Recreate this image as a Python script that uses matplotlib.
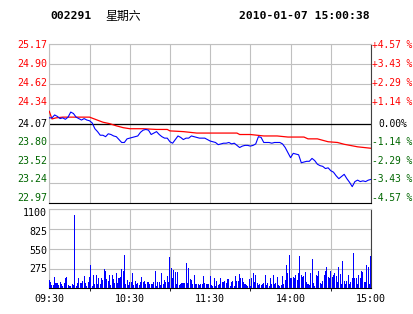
import numpy as np
import matplotlib
matplotlib.use('Agg')
import matplotlib.pyplot as plt
from matplotlib.transforms import ScaledTranslation, blended_transform_factory

# header
stock_code = '002291'
weekday = '星期六'
stamp = '2010-01-07 15:00:38'

# price axis
prev_close = 24.07
price_levels = [25.17, 24.895, 24.62, 24.345, 24.07, 23.795, 23.52, 23.245, 22.97]
price_labels = ['25.17', '24.90', '24.62', '24.34', '24.07', '23.80', '23.52', '23.24', '22.97']
pct_labels = ['+4.57 %', '+3.43 %', '+2.29 %', '+1.14 %', '0.00%', '-1.14 %', '-2.29 %', '-3.43 %', '-4.57 %']
vol_levels = [1100, 825, 550, 275]
time_ticks = [0, 60, 120, 180, 240]
time_labels = ['09:30', '10:30', '11:30', '14:00', '15:00']

# last price, sampled every 2 minutes (minute 0 = 09:30, 120 = 11:30/13:00, 240 = 15:00)
price_am = [24.15, 24.15, 24.19, 24.17, 24.14, 24.15, 24.13, 24.16, 24.23, 24.21,
            24.16, 24.14, 24.12, 24.14, 24.12, 24.11, 24.08, 24.00, 23.96, 23.91,
            23.91, 23.89, 23.93, 23.92, 23.90, 23.89, 23.85, 23.81, 23.81, 23.86,
            23.87, 23.88, 23.89, 23.90, 23.95, 23.98, 23.99, 23.98, 23.92, 23.94,
            23.96, 23.92, 23.89, 23.87, 23.87, 23.82, 23.80, 23.85, 23.90, 23.88,
            23.85, 23.87, 23.87, 23.90, 23.89, 23.88, 23.87, 23.87, 23.87, 23.85,
            23.83]
price_pm = [23.82, 23.81, 23.78, 23.79, 23.80, 23.80, 23.81, 23.79, 23.80, 23.77,
            23.74, 23.76, 23.77, 23.77, 23.76, 23.77, 23.79, 23.89, 23.88, 23.81,
            23.81, 23.81, 23.80, 23.81, 23.81, 23.81, 23.79, 23.74, 23.67, 23.60,
            23.66, 23.65, 23.64, 23.53, 23.54, 23.55, 23.55, 23.59, 23.56, 23.51,
            23.49, 23.48, 23.45, 23.46, 23.42, 23.40, 23.35, 23.31, 23.34, 23.37,
            23.31, 23.26, 23.20, 23.27, 23.29, 23.27, 23.28, 23.27, 23.29, 23.30]

# average price line
avg_minutes = [0, 2, 5, 10, 20, 30, 35, 40, 45, 50, 55, 60, 70, 80, 88, 90, 100, 110, 120,
               130, 140, 142, 150, 155, 160, 170, 178, 190, 193, 200, 208, 215, 220, 230, 240]
avg_prices = [24.24, 24.135, 24.15, 24.16, 24.16, 24.16, 24.125, 24.09, 24.07, 24.04, 24.015,
              24.00, 24.00, 23.99, 23.99, 23.97, 23.96, 23.94, 23.94,
              23.94, 23.94, 23.92, 23.92, 23.91, 23.90, 23.90, 23.885, 23.885, 23.86, 23.86,
              23.82, 23.81, 23.785, 23.75, 23.73]

# volume per minute
vol_am = [110, 82, 46, 46, 156, 73, 73, 46, 92, 64,
          27, 73, 147, 156, 46, 27, 27, 55, 46, 1022,
          27, 73, 137, 73, 73, 100, 165, 73, 27, 82,
          156, 330, 27, 183, 64, 183, 64, 137, 64, 137,
          119, 266, 238, 128, 100, 192, 46, 183, 128, 73,
          211, 73, 147, 156, 266, 238, 458, 55, 110, 46,
          82, 82, 211, 46, 100, 64, 73, 46, 82, 156,
          82, 100, 64, 92, 82, 64, 64, 64, 82, 238,
          27, 82, 82, 46, 211, 64, 110, 92, 174, 82,
          431, 284, 147, 257, 229, 64, 229, 46, 55, 73,
          73, 73, 348, 73, 284, 128, 110, 64, 183, 64,
          64, 55, 46, 64, 64, 174, 73, 55, 64, 64,
          165]
vol_pm = [46, 27, 147, 27, 100, 46, 64, 137, 82, 82,
          100, 73, 128, 128, 27, 92, 100, 27, 165, 100,
          100, 202, 137, 137, 82, 64, 46, 27, 128, 27,
          147, 220, 92, 192, 73, 46, 55, 46, 64, 73,
          192, 46, 73, 27, 137, 64, 192, 64, 73, 156,
          46, 27, 46, 165, 64, 119, 330, 211, 458, 137,
          147, 156, 137, 183, 119, 220, 449, 183, 156, 174,
          229, 82, 64, 46, 220, 403, 73, 37, 183, 174,
          238, 73, 64, 100, 192, 238, 293, 156, 137, 247,
          156, 192, 211, 165, 92, 293, 202, 55, 385, 100,
          64, 100, 192, 55, 82, 137, 495, 147, 147, 55,
          183, 137, 247, 229, 82, 82, 330, 302, 55, 449]

RED = '#ff0000'
GREEN = '#006600'
GRID = '#c0c0c0'
MONO = 'DejaVu Sans Mono'
FS = 7.2
FS_PCT = 6.9

prices = price_am + price_pm
price_minutes = np.arange(0, 241, 2)
volumes = vol_am + vol_pm
vol_minutes = np.arange(len(volumes))

W, H = 414, 314
fig = plt.figure(figsize=(W / 100, H / 100), dpi=100)
fig.patch.set_facecolor('white')


def px_box(left, top, right, bottom):
    return [left / W, 1 - bottom / H, (right - left) / W, (bottom - top) / H]


axP = fig.add_axes(px_box(49.3, 44, 371, 203.3))
axV = fig.add_axes(px_box(49.3, 209.3, 371, 288.3))

for ax in (axP, axV):
    ax.set_xlim(0, 240)
    ax.set_xticks(np.arange(0, 241, 30))
    ax.grid(True, color=GRID, linewidth=0.8)
    ax.set_axisbelow(True)
    ax.spines['top'].set_color(GRID)
    ax.spines['left'].set_color(GRID)
    ax.spines['bottom'].set_color('black')
    ax.spines['right'].set_color('#404040')
    for s in ax.spines.values():
        s.set_linewidth(0.8)
    ax.tick_params(length=0, labelleft=False)

# price panel
axP.set_ylim(price_levels[-1], price_levels[0])
axP.set_yticks(price_levels)
axP.tick_params(labelbottom=False)
axP.axhline(prev_close, color='black', linewidth=0.9, zorder=2)
axP.plot(avg_minutes, avg_prices, color=RED, linewidth=0.9, zorder=3)
axP.plot(price_minutes, prices, color='#0000ff', linewidth=0.8, zorder=4)

label_shift_px = [0.7, 0, -0.5, -1.5, 0.3, -1.5, -2.8, -4.5, -5]
left_tr = blended_transform_factory(axP.transAxes, axP.transData)
for lvl, lab, pct, dy in zip(price_levels, price_labels, pct_labels, label_shift_px):
    if lvl > prev_close + 0.01:
        col = RED
    elif lvl < prev_close - 0.01:
        col = GREEN
    else:
        col = 'black'
    off = ScaledTranslation(0, -dy / 100, fig.dpi_scale_trans)
    axP.text(-0.007, lvl, lab, transform=left_tr + off, ha='right', va='center',
             color=col, fontsize=FS, family=MONO)
    xr = 1.022 if pct == '0.00%' else 1.002
    axP.text(xr, lvl, pct, transform=left_tr + off, ha='left', va='center',
             color=col, fontsize=FS_PCT, family=MONO)

# volume panel
axV.set_ylim(0, 1100)
axV.set_yticks([0] + vol_levels)
axV.bar(vol_minutes, volumes, width=0.75, color='#0000ff', linewidth=0,
        antialiased=False, zorder=3)
vol_tr = blended_transform_factory(axV.transAxes, axV.transData)
for lvl, dy in zip(vol_levels, [3.7, 2.7, 1.7, 0.7]):
    off = ScaledTranslation(0, -dy / 100, fig.dpi_scale_trans)
    axV.text(-0.007, lvl, str(lvl), transform=vol_tr + off, ha='right', va='center',
             color='black', fontsize=FS, family=MONO)

axV.set_xticks(time_ticks, minor=False)
axV.set_xticks(np.arange(0, 241, 30), minor=True)
axV.grid(True, which='minor', axis='x', color=GRID, linewidth=0.8)
axV.set_xticklabels(time_labels, fontsize=FS, family=MONO)
axV.tick_params(axis='x', pad=4)

# header
fig.text(50 / W, 1 - 16 / H, stock_code, fontsize=8.2, family=MONO, weight='bold',
         ha='left', va='center')
fig.text(105 / W, 1 - 16 / H, weekday, fontsize=8.6, family=['Noto Sans CJK SC', 'DejaVu Sans'],
         ha='left', va='center')
fig.text(370 / W, 1 - 16 / H, stamp, fontsize=8.2, family=MONO, weight='bold',
         ha='right', va='center')

fig.savefig('out.png', dpi=100, facecolor='white')
